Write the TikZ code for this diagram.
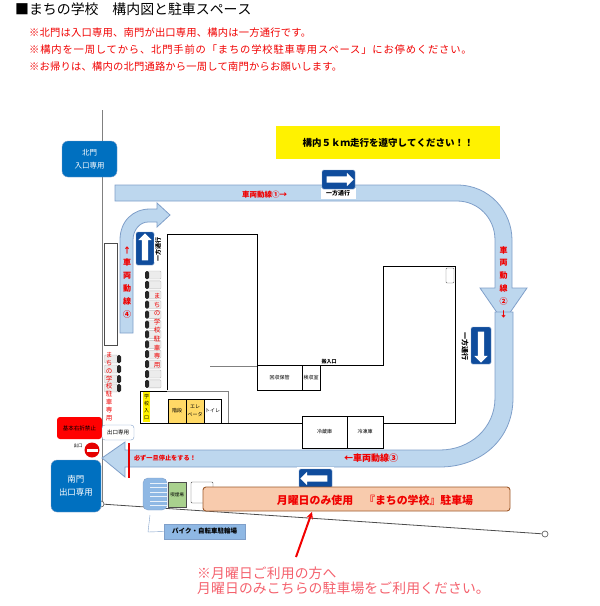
\documentclass[tikz,border=0pt]{standalone}
\usepackage{fontspec}
\setmainfont[Kerning=Off]{Noto Sans CJK JP}
\newfontfamily\noteplain[LetterSpace=1.8]{Noto Sans CJK JP}
\newfontfamily\notewide[LetterSpace=8]{Noto Sans CJK JP}
\newfontfamily\salmonwide[LetterSpace=1]{Noto Sans CJK JP}
\usetikzlibrary{shapes.arrows}
\definecolor{routefill}{HTML}{BDD7EE}
\definecolor{routeline}{HTML}{7F9FC9}
\definecolor{gateblue}{HTML}{0070C0}
\definecolor{signblue}{HTML}{0F4C9C}
\definecolor{peach}{HTML}{F8CBAD}
\definecolor{peachline}{HTML}{9C5A2C}
\definecolor{gold}{HTML}{FFD966}
\definecolor{smoke}{HTML}{A9D18E}
\definecolor{bikeblue}{HTML}{8FB8E4}
\definecolor{salmon}{HTML}{F4606C}
\definecolor{linered}{HTML}{F00000}
\newcommand{\fsz}[1]{\fontsize{#1}{#1}\selectfont}
\newcommand{\fsl}[2]{\fontsize{#1}{#2}\selectfont}
\tikzset{
    route/.style = {fill=routefill, draw=routeline, line width=0.8pt},
    wall/.style = {draw=black, line width=1pt},
    graywall/.style = {draw=gray, line width=0.8pt},
    room/.style = {draw=black, line width=1pt, inner sep=0pt, font=\fsz{5}},
    gate/.style = {draw=routeline, fill=gateblue, rounded corners=6pt, text=white, align=center, inner sep=0pt},
    sign/.style = {draw=routeline, fill=signblue, rounded corners=1.5pt, inner sep=0pt},
    signarrow/.style = {single arrow, fill=white, inner sep=0pt, text height=6pt, text depth=0pt, single arrow head extend=3.5pt},
    redtext/.style = {text=linered, anchor=west, inner sep=0pt},
    stack/.style = {text=linered, align=center, inner sep=0pt},
    carbody/.style = {draw=gray!55, fill=gray!15, rounded corners=1pt, minimum width=13pt, minimum height=8pt, inner sep=0pt},
    carfront/.style = {fill=black!85, rounded corners=1.5pt, minimum width=4pt, minimum height=8pt, inner sep=0pt},
    post/.style = {circle, draw=gray!80!black, fill=white, line width=0.7pt, minimum size=6pt, inner sep=0pt},
}
\begin{document}
\begin{tikzpicture}[x=1pt, y=-1pt]
    \useasboundingbox (0,0) rectangle (600,606);
    % heading
    \node[anchor=west, inner sep=0pt, font=\fsz{13.9}] (heading) at (15,9) {■まちの学校　構内図と駐車スペース};
    \node[redtext, font=\noteplain\fsz{10.3}] (note1) at (29,33) {※北門は入口専用、南門が出口専用、構内は一方通行です。};
    \node[redtext, font=\notewide\fsz{10.3}] (note2) at (29,50) {※構内を一周してから、北門手前の「まちの学校駐車専用スペース」にお停めください。};
    \node[redtext, font=\noteplain\fsz{10.3}] (note3) at (29,67) {※お帰りは、構内の北門通路から一周して南門からお願いします。};
    \node[fill=yellow, minimum width=224pt, minimum height=33pt, inner sep=0pt, font=\bfseries\fsz{9.5}] (speed) at (388,142.5) {構内５ｋｍ走行を遵守してください！！};

    % roads
    \draw[gray, line width=1pt] (102,110) -- (102,504);
    \node[post] (southpost) at (101,504) {};
    \node[post] (eastpost) at (545,534) {};
    \draw[black!70, line width=0.8pt] (southpost) -- (eastpost);

    % routes
    \draw[route] (115,185) -- (457,185) .. controls (490,185) and (512,212) .. (512,240) -- (512,288) -- (527,288) -- (503.5,322) -- (480,288) -- (495,288) -- (495,240) .. controls (495,218) and (478,201) .. (457,201) -- (115,201) -- cycle;
    \draw[route] (495,312) -- (513,312) -- (513,398) .. controls (513,440) and (480,467) .. (440,467) -- (125,467) -- (125,477) -- (102,458) -- (125,442) -- (125,450) -- (440,450) .. controls (470,450) and (495,428) .. (495,398) -- cycle;
    \draw[route] (120,333) -- (120,240) .. controls (120,221) and (133,209) .. (150,209) -- (157,209) -- (157,203) -- (170,215) -- (157,227) -- (157,222) -- (148,222) .. controls (140,222) and (133,230) .. (133,240) -- (133,333) -- cycle;
    \node[stack, font=\bfseries\fsz{7.5}] (route1) at (264.5,195) {車両動線①→};
    \node[stack, font=\bfseries\fsl{8}{12.8}] (route2) at (503.5,282) {車\\両\\動\\線\\②\\↓};
    \node[stack, font=\bfseries\fsz{9}] (route3) at (371,458) {←車両動線③};
    \node[stack, font=\bfseries\fsl{8}{12.8}] (route4) at (127,282) {↑\\車\\両\\動\\線\\④};

    % buildings
    \draw[wall] (167,390) -- (167,234) -- (257,234) -- (257,365) -- (383,365) -- (383,266) -- (455,266) -- (455,423) -- (383,423);
    \draw[wall] (302,423) -- (140,423) -- (140,391) -- (167,391);
    \draw[graywall] (167,391) -- (228,391) -- (228,423);
    \draw[graywall] (210,366) -- (257,366);
    \node[draw=gray!80!black, rounded corners=1pt, minimum width=8pt, minimum height=15pt, inner sep=0pt] (corner) at (450,275.5) {};
    \node[font=\bfseries\fsz{5}, inner sep=0pt] (carryin) at (329,362) {搬入口};
    \node[room, minimum width=45pt, minimum height=25pt] (storage) at (279.5,377.5) {回収保管};
    \node[room, minimum width=18pt, minimum height=25pt] (checkin) at (311,377.5) {検収室};
    \node[room, minimum width=45pt, minimum height=32pt] (fridge) at (324.5,432) {冷蔵庫};
    \node[room, minimum width=36pt, minimum height=32pt] (freezer) at (365,432) {冷凍庫};
    \node[fill=yellow, minimum width=7pt, minimum height=30pt, inner sep=0pt] (lobbyband) at (146.5,407) {};
    \node[align=center, inner sep=0pt, font=\fsl{5}{7}] (lobby) at (146.5,407) {学\\校\\入\\口};
    \node[room, fill=gold, minimum width=18pt, minimum height=24pt] (stairs) at (177,411) {階段};
    \node[room, fill=gold, minimum width=18pt, minimum height=24pt, align=center, font=\fsl{5}{8}] (lift) at (195,411) {エレ\\ベータ};
    \node[room, minimum width=17pt, minimum height=24pt] (toilet) at (212.5,411) {トイレ};

    % one way signs
    \node[fill=white, minimum width=35pt, minimum height=11pt, inner sep=0pt, font=\bfseries\fsz{6}] (topword) at (338,193.5) {一方通行};
    \node[sign, minimum width=33pt, minimum height=19pt] (topsign) at (338.5,179.5) {};
    \node[signarrow, minimum height=27pt] (toparrow) at (338.5,179.5) {};
    \node[fill=white, minimum width=37pt, minimum height=22pt, inner sep=0pt] (bottomback) at (315.5,478) {};
    \node[sign, minimum width=33pt, minimum height=19pt] (bottomsign) at (315.5,478.5) {};
    \node[signarrow, minimum height=27pt, rotate=180] (bottomarrow) at (315.5,478.5) {};
    \node[sign, minimum width=18pt, minimum height=33pt] (northsign) at (145,248.5) {};
    \node[signarrow, minimum height=27pt, rotate=90] (northarrow) at (145,248.5) {};
    \node[rotate=90, fill=white, inner sep=1pt, font=\bfseries\fsz{6}] (northword) at (158,249) {一方通行};
    \node[sign, minimum width=20pt, minimum height=37pt] (eastsign) at (481,345.5) {};
    \node[signarrow, minimum height=31pt, rotate=-90] (eastarrow) at (481,345.5) {};
    \node[rotate=-90, fill=white, inner sep=1pt, font=\bfseries\fsz{7}] (eastword) at (465,346) {一方通行};

    % parking
    \node[draw=black!70, fill=white, line width=0.8pt, minimum width=13pt, minimum height=102pt, inner sep=0pt] (sidebox) at (110.5,294) {};
    \foreach \carY in {275,284.9,294.8,304.7,314.6,324.5,334.4,344.3,354.2,364.1,374,383.9} {
        \node[carbody] at (154.5,\carY) {};
        \node[carfront] at (147,\carY) {};
    }
    \foreach \carY in {359,369,379,388} {
        \node[carbody] at (111,\carY) {};
        \node[carfront] at (119,\carY) {};
    }
    \node[stack, font=\fsl{6.5}{8.6}] (spacelabel) at (157,330.5) {ま\\ち\\の\\学\\校\\駐\\車\\専\\用};
    \node[stack, font=\fsl{6.5}{7.8}] (sidelabel) at (109,386.5) {ま\\ち\\の\\学\\校\\駐\\車\\専\\用};

    % south gate
    \node[gate, minimum width=55pt, minimum height=36pt, font=\fsl{7.5}{13}] (northgate) at (89.5,159) {北門\\入口専用};
    \node[gate, minimum width=50pt, minimum height=52pt, font=\fsl{8.5}{13}] (southgate) at (76,486) {南門\\出口専用};
    \node[fill=red, rounded corners=3pt, minimum width=45pt, minimum height=22pt, inner sep=0pt, font=\fsz{5.5}] (noright) at (79.5,428) {基本右折禁止};
    \node[draw=routeline, fill=white, rounded corners=3pt, minimum width=32pt, minimum height=15pt, inner sep=0pt, font=\fsz{5.5}] (exitonly) at (118,432.5) {出口専用};
    \node[font=\fsz{4.5}, inner sep=0pt] (exitword) at (78,446) {出口};
    \node[circle, fill=red!90!black, minimum size=15pt, inner sep=0pt] (noentry) at (92,450) {};
    \node[fill=white, minimum width=11pt, minimum height=3pt, inner sep=0pt] (noentrybar) at (92,450) {};
    \draw[red!90!black, line width=1.6pt] (129,443) -- (129,478);
    \node[stack, font=\bfseries\fsz{6.2}] (stopword) at (165,458) {必ず一旦停止をする！};

    % bike and front parking
    \node[draw=routeline, fill=bikeblue, rounded corners=5pt, minimum width=24pt, minimum height=32pt, inner sep=0pt] (bikes) at (155,494) {};
    \foreach \stripeY in {483,487.5,492,496.5,501,505.5} {
        \draw[white!80!bikeblue, line width=0.7pt] (150,\stripeY) -- (167,\stripeY);
    }
    \node[draw=black!70, fill=smoke, minimum width=18pt, minimum height=25pt, inner sep=0pt, font=\fsz{4.5}] (smoking) at (177,494.5) {喫煙場};
    \node[draw=black!70, fill=white, rounded corners=1pt, minimum width=22pt, minimum height=21pt, inner sep=0pt] (shed) at (202,492.5) {};
    \node[draw=peachline, fill=peach, rounded corners=3pt, line width=0.9pt, minimum width=307pt, minimum height=24pt, inner sep=0pt] (monday) at (356.5,499) {};
    \node[text=linered, font=\bfseries\fsz{10.9}, inner sep=0pt] (mondayword) at (375,500.5) {月曜日のみ使用　『まちの学校』駐車場};
    \node[draw=routeline, fill=bikeblue, minimum width=81pt, minimum height=15pt, inner sep=0pt, font=\bfseries\fsz{6.5}] (bikeword) at (204.5,531.5) {バイク・自転車駐輪場};
    \coordinate (bikefoot) at (150,515);
    \draw[routeline] (bikefoot) -- (148,532) -- (bikeword.west);

    % monday note
    \node[anchor=west, inner sep=0pt, text=salmon, font=\salmonwide\fsz{13.8}] (monday1) at (197,573) {※月曜日ご利用の方へ};
    \node[anchor=west, inner sep=0pt, text=salmon, font=\salmonwide\fsz{13.8}] (monday2) at (197,588) {月曜日のみこちらの駐車場をご利用ください。};
    \coordinate (arrowfoot) at (296,557);
    \draw[-stealth, red!95!black, line width=2pt] (arrowfoot) -- (312,512);
\end{tikzpicture}
\end{document}
